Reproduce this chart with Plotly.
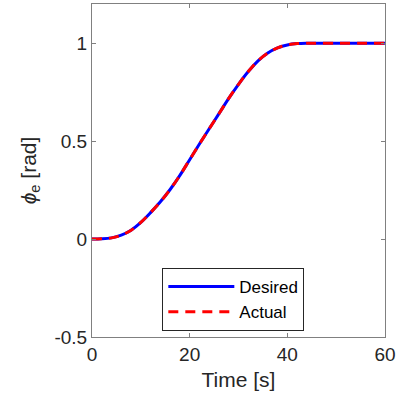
import plotly.graph_objects as go

# time samples [s] and angle values [rad]
time_s = [0, 2, 4, 6, 8, 10, 12, 14, 16, 18, 20, 22, 24, 26, 28, 30,
          32, 34, 36, 38, 40, 42, 44, 46, 50, 55, 60]
phi_desired = [0, 0.001, 0.006, 0.02, 0.045, 0.085, 0.135, 0.19, 0.253, 0.325,
               0.405, 0.485, 0.563, 0.64, 0.718, 0.79, 0.855, 0.91, 0.95, 0.976,
               0.991, 0.998, 1.0, 1.0, 1.0, 1.0, 1.0]
phi_actual = list(phi_desired)

font = "Liberation Sans, Arial, sans-serif"
axis_col = "#808080"
text_col = "#262626"

fig = go.Figure()
fig.add_trace(go.Scatter(x=time_s, y=phi_desired, mode="lines", name="Desired",
                         line=dict(color="#0000ff", width=3, shape="spline")))
fig.add_trace(go.Scatter(x=time_s, y=phi_actual, mode="lines", name="Actual",
                         line=dict(color="#ff0000", width=3, dash="10px,7px",
                                   shape="spline")))

axis_common = dict(showline=True, linecolor=axis_col, linewidth=1, mirror="ticks",
                   ticks="inside", ticklen=4, tickcolor=axis_col, showgrid=False,
                   zeroline=False, tickfont=dict(family=font, size=19, color=text_col))

fig.update_xaxes(range=[0, 60], tickvals=[0, 20, 40, 60],
                 title=dict(text="Time [s]", font=dict(family=font, size=21, color=text_col),
                            standoff=8),
                 **axis_common)
fig.update_yaxes(range=[-0.5, 1.2], tickvals=[-0.5, 0, 0.5, 1],
                 ticktext=["-0.5", "0", "0.5", "1"],
                 title=dict(text="<i>\u03d5</i><sub>e</sub> [rad]",
                            font=dict(family=font, size=21, color=text_col),
                            standoff=12),
                 **axis_common)

fig.update_layout(
    width=399, height=403,
    margin=dict(l=92, r=12, t=3, b=66),
    plot_bgcolor="white", paper_bgcolor="white",
    legend=dict(x=0.24, y=0.207, xanchor="left", yanchor="top",
                bordercolor=text_col, borderwidth=1, bgcolor="white",
                font=dict(family=font, size=17, color="black"),
                itemwidth=66, tracegroupgap=0),
)

fig.write_html("out.html", config={"displayModeBar": False},
               post_script="document.body.style.margin='0';")
